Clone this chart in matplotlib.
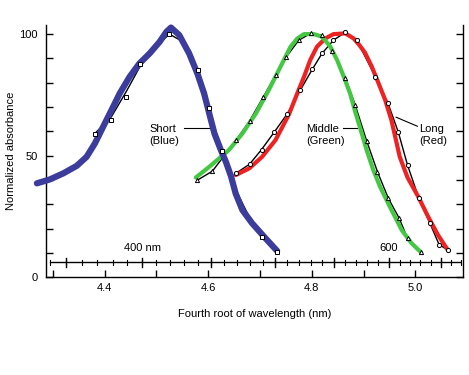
import numpy as np
import matplotlib
matplotlib.use('Agg')
from matplotlib import pyplot as plt

plt.rcParams['font.family'] = ['Liberation Sans', 'DejaVu Sans']

# Fitted curves (fourth root of wavelength, normalized absorbance)
blue_x = [4.269, 4.294, 4.320, 4.346, 4.365, 4.381, 4.397, 4.413, 4.429, 4.448,
          4.467, 4.487, 4.506, 4.519, 4.528, 4.544, 4.563, 4.579, 4.592, 4.602,
          4.612, 4.624, 4.634, 4.644, 4.653, 4.666, 4.685, 4.711, 4.733]
blue_y = [38.6, 40.2, 42.7, 45.8, 49.5, 55.0, 61.9, 68.7, 75.6, 82.4,
          87.9, 92.1, 96.8, 100.9, 102.7, 99.6, 92.1, 83.8, 75.6, 67.3,
          59.1, 52.5, 47.5, 41.5, 34.4, 27.6, 22.1, 15.9, 10.8]

green_x = [4.576, 4.602, 4.640, 4.666, 4.692, 4.717, 4.746, 4.759, 4.772, 4.785,
           4.804, 4.820, 4.836, 4.849, 4.862, 4.874, 4.884, 4.894, 4.906, 4.919,
           4.932, 4.951, 4.974, 4.993, 5.011]
green_y = [41.0, 45.4, 52.3, 59.1, 67.3, 77.0, 89.3, 94.8, 98.2, 100.0,
           100.0, 98.9, 94.8, 89.3, 82.4, 75.6, 68.0, 61.0, 52.3, 44.0,
           37.2, 28.9, 19.3, 13.9, 10.2]

red_x = [4.653, 4.679, 4.704, 4.730, 4.756, 4.772, 4.785, 4.797, 4.810, 4.826,
         4.842, 4.865, 4.881, 4.892, 4.903, 4.916, 4.929, 4.942, 4.954, 4.970,
         4.985, 5.006, 5.025, 5.044, 5.063]
red_y = [42.0, 44.7, 49.5, 56.4, 67.0, 75.6, 82.4, 89.3, 94.8, 98.2,
         100.0, 100.3, 98.2, 95.5, 92.3, 86.6, 79.8, 72.8, 64.5, 49.5,
         41.0, 33.0, 24.8, 17.3, 11.1]

# Thin black fit under the blue curve
blue_fit_x = [4.381, 4.413, 4.442, 4.469, 4.500, 4.525, 4.550, 4.581, 4.601, 4.626,
              4.645, 4.660, 4.679, 4.703, 4.733]
blue_fit_y = [59.1, 66.0, 76.5, 87.0, 95.0, 100.0, 97.0, 85.2, 69.4, 52.0,
              40.0, 33.0, 24.8, 16.6, 10.4]

# Measured points
blue_pts_x = [4.381, 4.413, 4.442, 4.469, 4.525, 4.581, 4.601, 4.626, 4.703, 4.733]
blue_pts_y = [59.1, 64.6, 74.2, 87.9, 100.0, 85.2, 69.4, 52.0, 16.6, 10.4]

green_pts_x = [4.579, 4.608, 4.654, 4.680, 4.706, 4.730, 4.751, 4.775, 4.798, 4.819,
               4.840, 4.865, 4.884, 4.906, 4.927, 4.948, 4.969, 4.985, 5.012]
green_pts_y = [39.9, 43.6, 56.4, 64.3, 74.0, 83.1, 90.7, 97.5, 100.3, 99.6,
               93.0, 82.0, 70.8, 56.1, 43.3, 32.4, 24.2, 15.9, 10.4]

red_pts_x = [4.654, 4.680, 4.703, 4.728, 4.753, 4.778, 4.801, 4.820, 4.842, 4.865,
             4.887, 4.923, 4.947, 4.967, 4.985, 5.007, 5.028, 5.046, 5.063]
red_pts_y = [42.8, 46.5, 52.5, 59.8, 67.3, 77.0, 85.5, 92.1, 97.5, 100.8,
             97.5, 82.4, 71.7, 59.8, 46.1, 32.4, 22.3, 13.4, 11.1]

# Wavelength scale (nm)
wl_major = [350, 400, 450, 500, 550, 600, 650]
wl_minor = list(range(340, 680, 10))
wl_range = [340, 669]
wl_scale_y = 6.05

fig = plt.figure(figsize=(4.69, 3.75), dpi=100)
ax = fig.add_axes([0.098, 0.261, 0.889, 0.672])

# black thin lines through data
ax.plot(blue_fit_x, blue_fit_y, color='k', lw=1.0, zorder=2)
ax.plot(green_pts_x, green_pts_y, color='k', lw=1.0, zorder=2)
ax.plot(red_pts_x, red_pts_y, color='k', lw=1.0, zorder=2)

line_kw = dict(solid_capstyle='round', solid_joinstyle='round')
ax.plot(red_x, red_y, color='#ee2222', lw=3.0, zorder=3, **line_kw)
ax.plot(green_x, green_y, color='#44c844', lw=3.0, zorder=3, **line_kw)
ax.plot(blue_x, blue_y, color='#3c3c9c', lw=4.5, zorder=4, clip_on=False, **line_kw)

ax.plot(blue_pts_x, blue_pts_y, 's', ms=3, mfc='white', mec='k', mew=0.7, ls='none', zorder=5)
ax.plot(green_pts_x, green_pts_y, '^', ms=3, mfc='white', mec='k', mew=0.7, ls='none', zorder=5)
ax.plot(red_pts_x, red_pts_y, 'o', ms=3, mfc='white', mec='k', mew=0.7, ls='none', zorder=5)

# wavelength scale inside the plot
wl_lims = np.array(wl_range) ** 0.25
ax.plot(wl_lims, [wl_scale_y, wl_scale_y], color='k', lw=1.0, zorder=2)
for w in wl_minor:
    ax.plot([w ** 0.25] * 2, [wl_scale_y - 1.0, wl_scale_y + 1.0], color='k', lw=0.8)
for w in wl_major:
    ax.plot([w ** 0.25] * 2, [wl_scale_y - 2.0, wl_scale_y + 2.0], color='k', lw=1.0)
ax.text(400 ** 0.25, 11.9, '400 nm', ha='center', va='center', fontsize=8)
ax.text(600 ** 0.25, 11.9, '600', ha='center', va='center', fontsize=8)

# labels for the curves
ax.text(4.4865, 58.6, 'Short\n(Blue)', ha='left', va='center', fontsize=8, linespacing=1.2)
ax.plot([4.553, 4.608], [61.4, 61.4], color='k', lw=0.8)
ax.text(4.790, 58.6, 'Middle\n(Green)', ha='left', va='center', fontsize=8, linespacing=1.2)
ax.plot([4.860, 4.887], [61.4, 61.4], color='k', lw=0.8)
ax.text(5.0077, 58.6, 'Long\n(Red)', ha='left', va='center', fontsize=8, linespacing=1.2)
ax.plot([5.004, 4.963], [62.1, 65.8], color='k', lw=0.8)

ax.set_xlim(4.2865, 5.092)
ax.set_ylim(0, 103.7)
ax.spines['top'].set_visible(False)
for s in ['left', 'right', 'bottom']:
    ax.spines[s].set_linewidth(1.0)

xt = np.arange(4.3, 5.05, 0.1)
ax.set_xticks(xt)
ax.set_xticklabels(['' if i % 2 == 0 else f'{v:.1f}' for i, v in enumerate(xt)])
ax.set_yticks(range(0, 101, 10))
ax.set_yticklabels(['0', '', '', '', '', '50', '', '', '', '', '100'])
ax.tick_params(axis='both', direction='in', length=5, width=1.0, labelsize=8)
ax.tick_params(axis='y', right=True, pad=6)
ax.tick_params(axis='x', pad=4)

ax.set_xlabel('Fourth root of wavelength (nm)', fontsize=8, labelpad=12)
ax.set_ylabel('Normalized absorbance', fontsize=8, labelpad=2)

plt.savefig('out.png', dpi=100)
